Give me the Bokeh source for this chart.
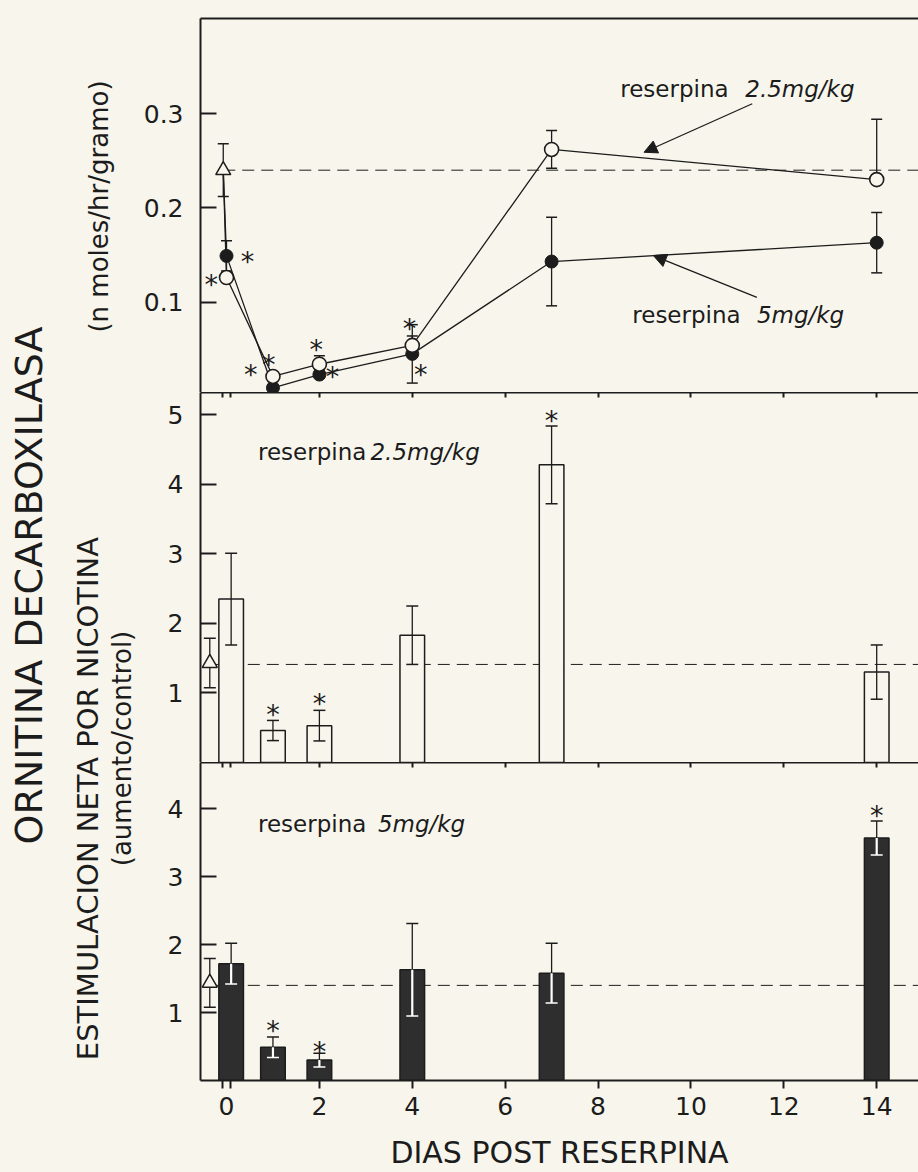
import math
from bokeh.plotting import figure
from bokeh.models import (Range1d, LinearAxis, FixedTicker, Whisker, TeeHead,
                          ColumnDataSource, Label, Arrow, NormalHead)
from bokeh.layouts import row, column
from bokeh.embed import file_html
from bokeh.resources import INLINE
from bokeh.core.properties import value

INK = "#1c1c1c"
PAPER = "#f8f6ec"
FONT = "DejaVu Sans"

# ---------------- data ----------------
days = [0, 1, 2, 4, 7, 14]
bar_days = [0.1, 1, 2, 4, 7, 14]
x_tick_days = [0, 2, 4, 6, 8, 10, 12, 14]
x_tick_marks = [-0.08, 0.08, 2, 4, 6, 8, 10, 12, 14]

# top panel: ornitina decarboxilasa (nmoles/hr/gramo)
top_ctrl_day = -0.07
top_ctrl = 0.240
top_ctrl_err = 0.028
odc_5mg = [0.149, 0.009, 0.023, 0.045, 0.143, 0.163]
odc_5mg_err = [0.016, 0.0, 0.0, 0.031, 0.047, 0.032]
odc_25mg = [0.126, 0.021, 0.034, 0.054, 0.262, 0.230]
odc_25mg_err_up = [0.0, 0.0, 0.009, 0.010, 0.020, 0.064]
odc_25mg_err_dn = [0.0, 0.0, 0.0, 0.010, 0.020, 0.0]
top_star_x = [0.45, -0.33, 0.91, 0.52, 1.93, 2.28, 3.94, 4.18]
top_star_y = [0.149, 0.125, 0.040, 0.029, 0.056, 0.027, 0.078, 0.030]

# middle panel: estimulacion neta por nicotina, reserpina 2.5 mg/kg
bar_ctrl_day = -0.36
mid_ctrl = 1.43
mid_ctrl_err = 0.355
mid_ref = 1.41
stim_25mg = [2.35, 0.46, 0.53, 1.83, 4.28, 1.30]
stim_25mg_err = [0.66, 0.145, 0.22, 0.42, 0.56, 0.39]
mid_star_days = [1, 2, 7]
mid_star_y = [0.78, 0.94, 5.0]

# bottom panel: reserpina 5 mg/kg
bot_ctrl = 1.437
bot_ctrl_err = 0.36
bot_ref = 1.40
stim_5mg = [1.72, 0.49, 0.30, 1.63, 1.58, 3.57]
stim_5mg_err = [0.30, 0.15, 0.10, 0.68, 0.44, 0.25]
bot_star_days = [1, 2, 14]
bot_star_y = [0.82, 0.52, 3.99]

# annotation anchors (day, value)
top_txt25 = (10.81, 11.17, 0.326)
top_txt5 = (11.07, 11.42, 0.086)
arrow25 = (11.32, 0.3105, 8.99, 0.259)
arrow5 = (11.42, 0.105, 9.19, 0.1494)
mid_txt = (3.01, 3.10, 4.46)
bot_txt = (3.01, 3.26, 3.78)

xr = Range1d(-0.56, 14.90)
PANEL_W = 780


def base_fig(height, yr, top=0, bottom=0):
    p = figure(width=PANEL_W, height=height, x_range=xr, y_range=yr,
               x_axis_location=None, toolbar_location=None,
               output_backend="svg", min_border_left=62, min_border_right=0,
               min_border_top=top, min_border_bottom=bottom)
    p.background_fill_color = PAPER
    p.border_fill_color = PAPER
    p.outline_line_color = None
    p.grid.visible = False
    return p


def style_y(p, ticks):
    ya = p.yaxis[0]
    ya.ticker = FixedTicker(ticks=ticks)
    ya.major_tick_in = 16
    ya.major_tick_out = 0
    ya.major_tick_line_width = 2
    ya.major_tick_line_color = INK
    ya.minor_tick_line_color = None
    ya.axis_line_width = 2
    ya.axis_line_color = INK
    ya.major_label_standoff = 17
    ya.major_label_text_font = FONT
    ya.major_label_text_font_size = "25px"
    ya.major_label_text_color = INK


def top_line_axis(p, marks):
    ax = LinearAxis(ticker=FixedTicker(ticks=[], minor_ticks=marks),
                    major_tick_in=0, major_tick_out=0,
                    minor_tick_in=5 if marks else 0, minor_tick_out=0,
                    minor_tick_line_width=2, minor_tick_line_color=INK,
                    major_label_text_font_size="0px", major_label_standoff=0,
                    axis_line_width=2, axis_line_color=INK)
    p.add_layout(ax, "above")


def stars(p, xs, ys):
    p.text(x=xs, y=ys, text=["*"] * len(xs), text_font=value(FONT),
           text_font_size="27px", text_align="center", text_baseline="middle",
           y_offset=6, text_color=INK)


def dose_label(p, anchor, dose):
    xr_, xl_, yy = anchor
    p.text(x=[xr_], y=[yy], text=["reserpina"], text_font=value(FONT),
           text_font_size="23px", text_align="right", text_baseline="middle",
           text_color=INK)
    p.text(x=[xl_], y=[yy], text=[dose], text_font=value(FONT),
           text_font_size="23px", text_font_style="italic", text_align="left",
           text_baseline="middle", text_color=INK)


def tee(color=INK, size=12):
    return TeeHead(size=size, line_color=color, line_width=1.5)


# ---------------- top panel ----------------
A = base_fig(392, Range1d(0.004, 0.401), top=18)
style_y(A, [0.1, 0.2, 0.3])
top_line_axis(A, [])

A.segment(x0=[top_ctrl_day], y0=[top_ctrl], x1=[20], y1=[top_ctrl],
          line_color=INK, line_width=1, line_dash="12 7")

A.line([top_ctrl_day] + days, [top_ctrl] + odc_5mg, line_color=INK, line_width=1.3)
A.line([top_ctrl_day] + days, [top_ctrl] + odc_25mg, line_color=INK, line_width=1.3)

s5 = ColumnDataSource(dict(
    x=[d for d, e in zip(days, odc_5mg_err) if e > 0],
    up=[v + e for v, e in zip(odc_5mg, odc_5mg_err) if e > 0],
    lo=[v - e for v, e in zip(odc_5mg, odc_5mg_err) if e > 0]))
A.add_layout(Whisker(source=s5, base="x", upper="up", lower="lo",
                     line_color=INK, line_width=1.3, level="underlay",
                     upper_head=tee(size=11), lower_head=tee(size=11)))
s25 = ColumnDataSource(dict(
    x=[d for d, u in zip(days, odc_25mg_err_up) if u > 0],
    up=[v + u for v, u in zip(odc_25mg, odc_25mg_err_up) if u > 0],
    lo=[v - dn for v, u, dn in zip(odc_25mg, odc_25mg_err_up, odc_25mg_err_dn) if u > 0]))
A.add_layout(Whisker(source=s25, base="x", upper="up", lower="lo",
                     line_color=INK, line_width=1.3, level="underlay",
                     upper_head=tee(size=11), lower_head=tee(size=11)))
sc = ColumnDataSource(dict(x=[top_ctrl_day], up=[top_ctrl + top_ctrl_err],
                           lo=[top_ctrl - top_ctrl_err]))
A.add_layout(Whisker(source=sc, base="x", upper="up", lower="lo",
                     line_color=INK, line_width=1.3, level="underlay",
                     upper_head=tee(size=11), lower_head=tee(size=11)))

A.scatter(days, odc_5mg, marker="circle", size=13, fill_color=INK, line_color=INK)
A.scatter(days, odc_25mg, marker="circle", size=14, fill_color=PAPER,
          line_color=INK, line_width=1.6)
A.scatter([top_ctrl_day], [top_ctrl], marker="triangle", size=15,
          fill_color=PAPER, line_color=INK, line_width=1.5)
stars(A, top_star_x, top_star_y)
dose_label(A, top_txt25, "2.5mg/kg")
dose_label(A, top_txt5, "5mg/kg")
for a in (arrow25, arrow5):
    A.add_layout(Arrow(end=NormalHead(size=13, fill_color=INK, line_color=INK),
                       x_start=a[0], y_start=a[1], x_end=a[2], y_end=a[3],
                       line_color=INK, line_width=1.3))


# ---------------- bar panels ----------------
def bar_panel(height, ymax, yticks, vals, errs, ctrl, ctrl_err, ref, dark, bottom=0):
    p = base_fig(height, Range1d(0, ymax), top=0, bottom=bottom)
    style_y(p, yticks)
    top_line_axis(p, x_tick_marks)
    p.segment(x0=[bar_ctrl_day], y0=[ref], x1=[20], y1=[ref],
              line_color=INK, line_width=1, line_dash="12 7")
    src = ColumnDataSource(dict(
        x=bar_days, top=vals,
        up=[v + e for v, e in zip(vals, errs)],
        lo=[v - e for v, e in zip(vals, errs)]))
    p.vbar(x="x", top="top", width=0.53, source=src,
           fill_color="#2e2e2e" if dark else PAPER, line_color=INK, line_width=1.5)
    if dark:
        p.add_layout(Whisker(source=src, base="x", upper="up", lower="top",
                             line_color=INK, line_width=1.3, level="annotation",
                             upper_head=tee(), lower_head=None))
        p.add_layout(Whisker(source=src, base="x", upper="top", lower="lo",
                             line_color="white", line_width=2.2, level="annotation",
                             upper_head=None, lower_head=tee("white")))
    else:
        p.add_layout(Whisker(source=src, base="x", upper="up", lower="lo",
                             line_color=INK, line_width=1.3, level="annotation",
                             upper_head=tee(), lower_head=tee()))
    csrc = ColumnDataSource(dict(x=[bar_ctrl_day], up=[ctrl + ctrl_err],
                                 lo=[ctrl - ctrl_err]))
    p.add_layout(Whisker(source=csrc, base="x", upper="up", lower="lo",
                         line_color=INK, line_width=1.3, level="underlay",
                         upper_head=tee(), lower_head=tee()))
    p.scatter([bar_ctrl_day], [ctrl], marker="triangle", size=15,
              fill_color=PAPER, line_color=INK, line_width=1.5)
    return p


B = bar_panel(370, 5.32, [1, 2, 3, 4, 5], stim_25mg, stim_25mg_err,
              mid_ctrl, mid_ctrl_err, mid_ref, dark=False)
stars(B, mid_star_days, mid_star_y)
dose_label(B, mid_txt, "2.5mg/kg")

C = bar_panel(410, 4.68, [1, 2, 3, 4], stim_5mg, stim_5mg_err,
              bot_ctrl, bot_ctrl_err, bot_ref, dark=True, bottom=90)
stars(C, bot_star_days, bot_star_y)
dose_label(C, bot_txt, "5mg/kg")

xa = LinearAxis(ticker=FixedTicker(ticks=x_tick_days, minor_ticks=x_tick_marks),
                major_tick_in=0, major_tick_out=0,
                minor_tick_in=0, minor_tick_out=8,
                minor_tick_line_width=2, minor_tick_line_color=INK,
                axis_line_width=2, axis_line_color=INK,
                major_label_standoff=8,
                major_label_text_font=FONT, major_label_text_font_size="25px",
                major_label_text_color=INK,
                axis_label="DIAS POST RESERPINA", axis_label_standoff=17,
                axis_label_text_font=FONT, axis_label_text_font_size="30px",
                axis_label_text_font_style="normal", axis_label_text_color=INK)
C.add_layout(xa, "below")

# ---------------- left label strip ----------------
L = figure(width=138, height=1172, x_range=Range1d(0, 138), y_range=Range1d(1172, 0),
           x_axis_location=None, y_axis_location=None, toolbar_location=None,
           output_backend="svg", min_border=0)
L.background_fill_color = PAPER
L.border_fill_color = PAPER
L.outline_line_color = None
L.grid.visible = False
for txt, x, y, fs in [("ORNITINA DECARBOXILASA", 28, 585, "38px"),
                      ("ESTIMULACION NETA POR NICOTINA", 87.5, 798, "29px"),
                      ("(aumento/control)", 121.5, 748, "26px"),
                      ("(n moles/hr/gramo)", 98, 206, "26px")]:
    L.add_layout(Label(x=x, y=y, text=txt, angle=math.pi / 2,
                       text_align="center", text_baseline="middle",
                       text_font=FONT, text_font_size=fs, text_color=INK))

layout = row(L, column(A, B, C))
html = file_html(layout, INLINE)
html = html.replace("</head>",
                    "<style>html, body { background: %s !important; }</style></head>" % PAPER, 1)
open("out.html", "w").write(html)
